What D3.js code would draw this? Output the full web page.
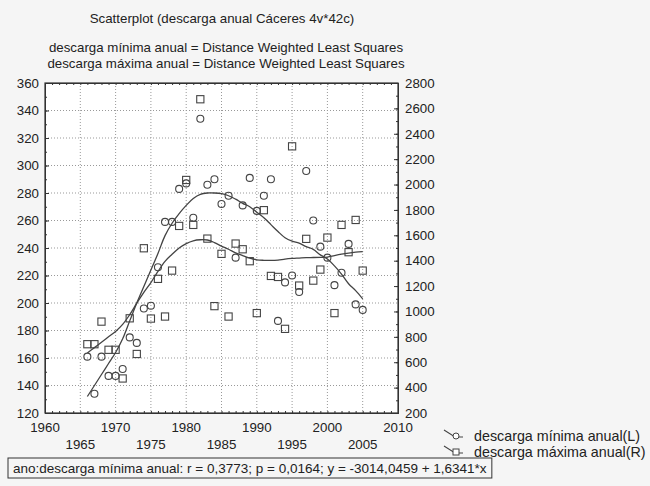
<!DOCTYPE html>
<html><head><meta charset="utf-8">
<script src="https://cdn.jsdelivr.net/npm/d3@7/dist/d3.min.js"></script>
<style>
html,body{margin:0;padding:0;background:#f5f5f5;}
svg{display:block;}
text{font-family:"Liberation Sans",Arial,sans-serif;fill:#222;}
</style></head>
<body>
<script>
// ---- data ----
const years = [1966,1967,1968,1969,1970,1971,1972,1973,1974,1975,1976,1977,1978,1979,1980,1981,1982,1983,1984,1985,
               1986,1987,1988,1989,1990,1991,1992,1993,1994,1995,1996,1997,1998,1999,2000,2001,2002,2003,2004,2005];
const minVals = [161,134,161,147,147,152,175,171,196,198,226,259,259,283,287,262,334,286,290,272,
                 278,233,271,291,267,278,290,187,215,220,208,296,260,241,233,213,222,243,199,195];
const maxVals = [742,742,920,698,698,472,946,665,1498,944,1257,960,1322,1674,2036,1682,2672,1574,1042,1454,
                 960,1535,1490,1396,987,1798,1280,1272,863,2301,1204,1572,1243,1330,1582,987,1682,1467,1721,1322];
// smoothed (DWLS) curves
const minFit = [132,140,148,156,164,174,187,200,212,224,236,249,258,265,271,276,279,280,280,279.5,
                278,275.5,272.5,270,266,262,257,252,247.5,245,243.5,241,239,235,232,227,221,214,209,203];
const maxFit = [672,715,757,800,843,898,975,1065,1150,1228,1315,1395,1450,1500,1535,1557,1565,1563,1543,1515,
                1490,1462,1440,1420,1407,1403,1402,1405,1413,1418,1421,1424,1425,1426,1428,1440,1451,1460,1467,1472];
const xTicksTop = [1960,1970,1980,1990,2000,2010];
const xTicksBottom = [1965,1975,1985,1995,2005];
const leftTicks = [120,140,160,180,200,220,240,260,280,300,320,340,360];
const rightTicks = [200,400,600,800,1000,1200,1400,1600,1800,2000,2200,2400,2600,2800];
const title = "Scatterplot (descarga anual Cáceres 4v*42c)";
const sub1 = "descarga mínima anual = Distance Weighted Least Squares";
const sub2 = "descarga máxima anual = Distance Weighted Least Squares";
const legendLabels = ["descarga mínima anual(L)","descarga máxima anual(R)"];
const statText = "ano:descarga mínima anual:  r = 0,3773; p = 0,0164; y = -3014,0459 + 1,6341*x";

const W=650,H=486;
const L=45,R=398,T=83,B=413;
const svg=d3.select("body").append("svg").attr("width",W).attr("height",H);
svg.append("rect").attr("width",W).attr("height",H).attr("fill","#f5f5f5");

const x=d3.scaleLinear().domain([1960,2010]).range([L,R]);
const yL=d3.scaleLinear().domain([120,360]).range([B,T]);
const yR=d3.scaleLinear().domain([200,2800]).range([B,T]);

svg.append("rect").attr("x",L).attr("y",T).attr("width",R-L).attr("height",B-T).attr("fill","#fff");

// grid
const g=svg.append("g");
g.selectAll(".vg").data(d3.range(1965,2010,5)).join("line")
 .attr("x1",d=>x(d)).attr("x2",d=>x(d)).attr("y1",T).attr("y2",B)
 .attr("stroke","#999").attr("stroke-width",1).attr("stroke-dasharray","1,2");
g.selectAll(".hg").data(leftTicks.slice(1,-1)).join("line")
 .attr("y1",d=>yL(d)).attr("y2",d=>yL(d)).attr("x1",L).attr("x2",R)
 .attr("stroke","#999").attr("stroke-width",1).attr("stroke-dasharray","1,2");

// axes (ticks inside)
const fs="13.3px";
const ax=svg.append("g").attr("transform",`translate(0,${B})`)
 .call(d3.axisBottom(x).tickValues(d3.range(1960,2011,1)).tickSize(-2).tickFormat(""));
const axT=svg.append("g").attr("transform",`translate(0,${T})`)
 .call(d3.axisTop(x).tickValues(d3.range(1960,2011,1)).tickSize(-2).tickFormat(""));
const ayl=svg.append("g").attr("transform",`translate(${L},0)`)
 .call(d3.axisLeft(yL).tickValues(d3.range(120,361,10)).tickSize(-2).tickFormat(""));
const ayl2=svg.append("g").attr("transform",`translate(${L},0)`)
 .call(d3.axisLeft(yL).tickValues(leftTicks).tickSize(-4).tickPadding(6).tickFormat(d3.format("d")));
const ayr=svg.append("g").attr("transform",`translate(${R},0)`)
 .call(d3.axisRight(yR).tickValues(d3.range(200,2801,100)).tickSize(-2).tickFormat(""));
const ayr2=svg.append("g").attr("transform",`translate(${R},0)`)
 .call(d3.axisRight(yR).tickValues(rightTicks).tickSize(-4).tickPadding(7).tickFormat(d3.format("d")));
[ax,axT,ayl,ayl2,ayr,ayr2].forEach(a=>{
  a.selectAll(".domain").attr("stroke","#333");
  a.selectAll("line").attr("stroke","#333");
  a.selectAll("text").style("font-size",fs).attr("fill","#222").style("font-family","Liberation Sans, Arial, sans-serif");
});
svg.append("rect").attr("x",L).attr("y",T).attr("width",R-L).attr("height",B-T)
 .attr("fill","none").attr("stroke","#333").attr("stroke-width",1.2);

// x labels staggered
svg.selectAll(".xl1").data(xTicksTop).join("text")
 .attr("x",d=>x(d)).attr("y",432).attr("text-anchor","middle").style("font-size",fs).text(d=>d);
svg.selectAll(".xl2").data(xTicksBottom).join("text")
 .attr("x",d=>x(d)).attr("y",449).attr("text-anchor","middle").style("font-size",fs).text(d=>d);

// fitted curves
const lineL=d3.line().x((d,i)=>x(years[i])).y(d=>yL(d)).curve(d3.curveCatmullRom);
const lineR=d3.line().x((d,i)=>x(years[i])).y(d=>yR(d)).curve(d3.curveCatmullRom);
svg.append("path").attr("d",lineL(minFit)).attr("fill","none").attr("stroke","#444").attr("stroke-width",1.3);
svg.append("path").attr("d",lineR(maxFit)).attr("fill","none").attr("stroke","#444").attr("stroke-width",1.3);

// points
svg.selectAll(".c").data(minVals).join("circle")
 .attr("cx",(d,i)=>x(years[i])).attr("cy",d=>yL(d)).attr("r",3.5)
 .attr("fill","none").attr("stroke","#444").attr("stroke-width",1.1);
svg.selectAll(".s").data(maxVals).join("rect")
 .attr("x",(d,i)=>x(years[i])-3.6).attr("y",d=>yR(d)-3.6).attr("width",7.2).attr("height",7.2)
 .attr("fill","none").attr("stroke","#444").attr("stroke-width",1.1);

// titles
svg.append("text").attr("x",222).attr("y",23).attr("text-anchor","middle").style("font-size","13.3px").text(title);
svg.append("text").attr("x",226).attr("y",52).attr("text-anchor","middle").style("font-size","13.3px").text(sub1);
svg.append("text").attr("x",226).attr("y",68).attr("text-anchor","middle").style("font-size","13.3px").text(sub2);

// legend
const lg=svg.append("g");
[0,1].forEach(i=>{
  const y0=436+i*16;
  lg.append("path").attr("d",`M444,${y0-6} L455,${y0+1} L463,${y0+1}`).attr("fill","none").attr("stroke","#444").attr("stroke-width",1.1);
  if(i===0) lg.append("circle").attr("cx",456).attr("cy",y0).attr("r",3).attr("fill","#fff").attr("stroke","#444");
  else lg.append("rect").attr("x",453).attr("y",y0-3).attr("width",6).attr("height",6).attr("fill","#fff").attr("stroke","#444");
  lg.append("text").attr("x",474).attr("y",y0+5).style("font-size","14.3px").text(legendLabels[i]);
});

// stats box
const st=svg.append("text").attr("x",13).attr("y",473).style("font-size","13.5px").text(statText);
const bb=st.node().getBBox();
svg.append("rect").attr("x",bb.x-5).attr("y",458).attr("width",bb.width+10).attr("height",20)
 .attr("fill","none").attr("stroke","#333").attr("stroke-width",1);
</script>
</body></html>
